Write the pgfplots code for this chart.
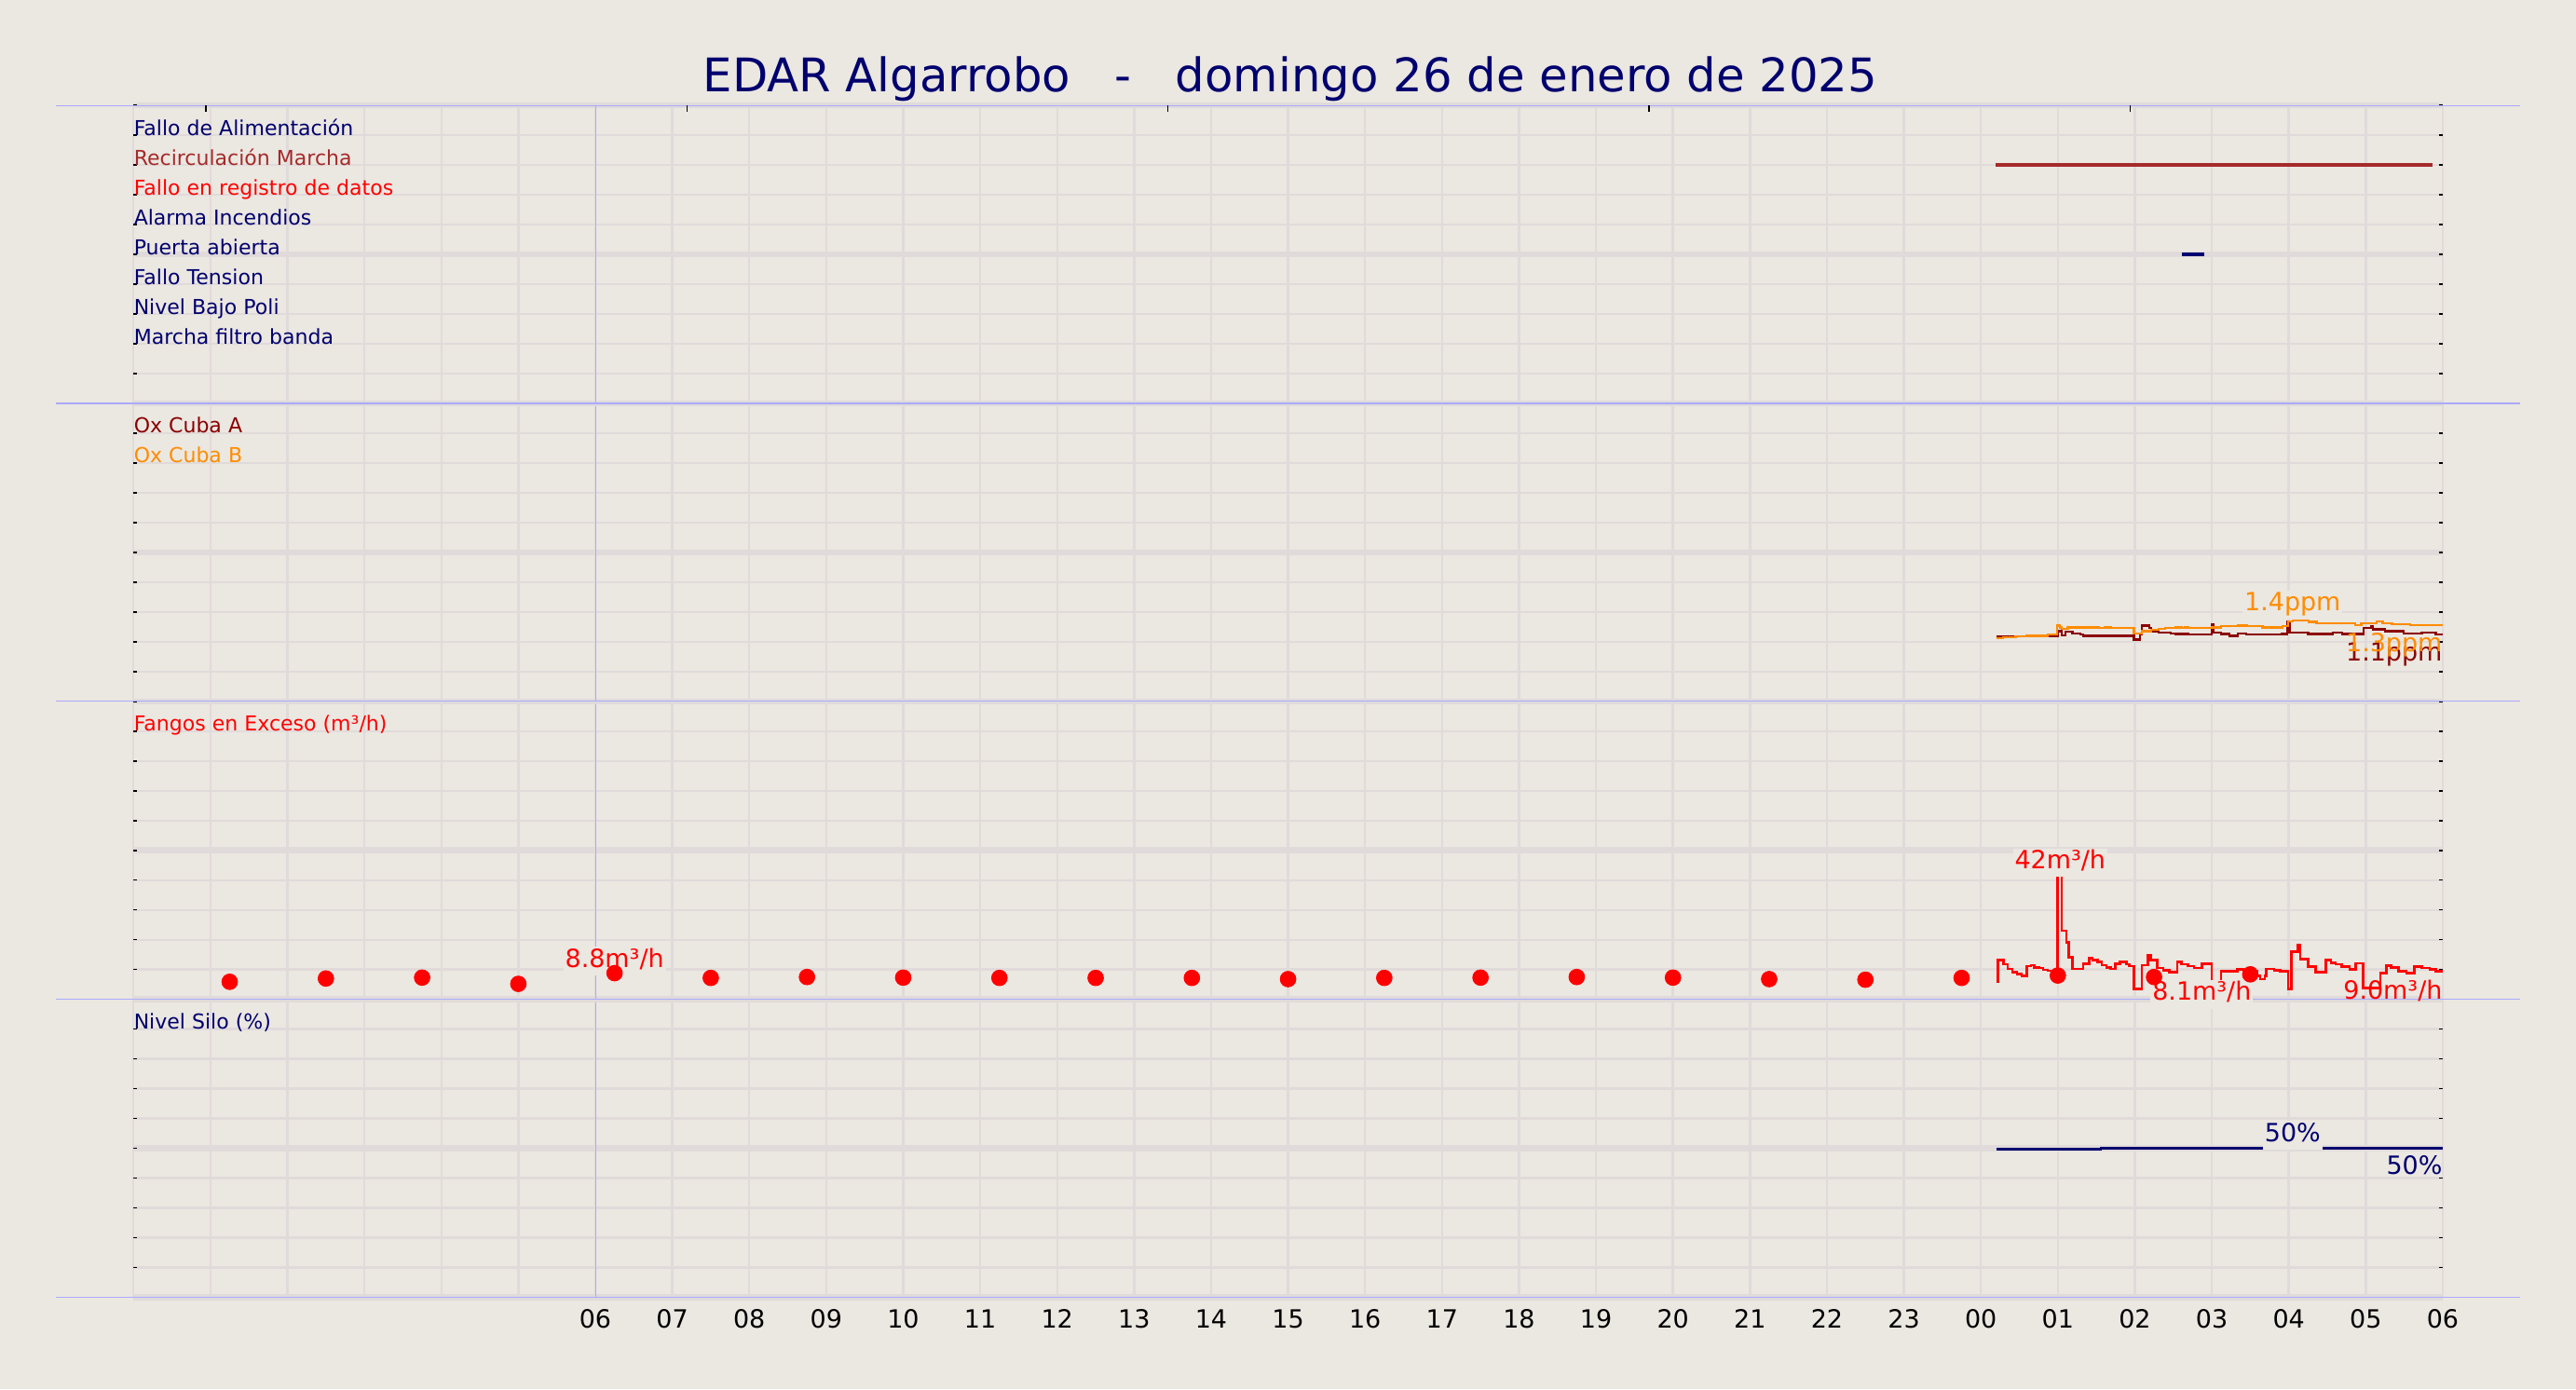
\documentclass[border=0pt]{standalone}
\usepackage{pgfplots}
\pgfplotsset{compat=1.18}
\usepackage{fontspec}
\setmainfont{DejaVu Sans}

\definecolor{bgc}{RGB}{235,231,225}
\definecolor{gridc}{RGB}{224,219,218}
\definecolor{sepc}{RGB}{170,170,255}
\definecolor{navyc}{RGB}{0,0,110}
\definecolor{brownc}{RGB}{165,42,42}
\definecolor{oxa}{RGB}{139,0,0}
\definecolor{oxb}{RGB}{255,140,0}

\newcommand{\lab}{\fontsize{9}{11}\selectfont}
\newcommand{\ann}{\fontsize{11}{13}\selectfont}

\tikzset{
  sep/.style={sepc, line width=0.5pt},
  boxed/.style={fill=bgc, inner xsep=0.8pt, inner ysep=1pt, text height=0.8em, text depth=0.25em},
  plain/.style={inner sep=0pt},
}

\pgfplotsset{
  panel/.style={
    at={(58.5pt,#1)}, anchor=south west,
    scale only axis, width=1012.1pt, height=130.6pt,
    xmin=0, xmax=30, xtick={0,1,...,30}, xticklabels={},
    xtick style={draw=none},
    yticklabels={},
    ytick pos=both, tick align=inside,
    major tick length=1.6pt,
    ytick style={black, line width=0.6pt},
    axis line style={draw=none},
    grid=major,
    major grid style={gridc, line width=1pt},
    extra y tick labels={},
    extra y tick style={major grid style={gridc, line width=2.7pt}},
    clip=false,
  },
}

\begin{document}
\begin{tikzpicture}
\useasboundingbox (0,0) rectangle (1129pt,608.8pt);
\fill[bgc] (0,0) rectangle (1129pt,608.8pt);

% ---- Nivel Silo
\begin{axis}[panel=40.2pt, ymin=0, ymax=100, ytick={0,10,...,100}, extra y ticks={0,50,100},
  xticklabels={{},{},{},{},{},{},06,07,08,09,10,11,12,13,14,15,16,17,18,19,20,21,22,23,00,01,02,03,04,05,06},
  xticklabel style={font=\fontsize{11}{13}\selectfont, inner sep=0pt, yshift=-5.1pt}]
  \draw[sep] (rel axis cs:-0.0336,0) -- (rel axis cs:1.0335,0);
  \draw[sepc, line width=0.4pt] (axis cs:6,0) -- (axis cs:6,100);
  \addplot[navyc, line width=1.1pt, const plot] coordinates {
    (24.20,49.8) (25.56,50.1) (30.00,50.1)};
  \node[plain, anchor=base west, text=navyc, font=\lab] at (axis cs:0,90) {Nivel Silo (\%)};
  \node[boxed, anchor=base, text=navyc, font=\ann] at (axis cs:28.05,52.3) {50\%};
  \node[plain, anchor=base east, text=navyc, font=\ann] at (axis cs:30,41.4) {50\%};
\end{axis}

% ---- Fangos en Exceso
\begin{axis}[panel=170.8pt, ymin=0, ymax=100, ytick={0,10,...,100}, extra y ticks={0,50,100}]
  \draw[sep] (rel axis cs:-0.0336,0) -- (rel axis cs:1.0335,0);
  \draw[sepc, line width=0.4pt] (axis cs:6,0) -- (axis cs:6,100);
  \addplot[red, line width=1.1pt, const plot] coordinates {
    (24.20,5.8) (24.22,13.1) (24.29,11.8) (24.35,10.2) (24.41,9.1) (24.47,8.4)
    (24.53,7.9) (24.60,11.2) (24.65,11.5) (24.69,10.8) (24.75,10.5) (24.81,9.9)
    (24.87,9.6) (25.00,41.5) (25.05,23.0) (25.11,19.2) (25.14,14.1) (25.19,10.2)
    (25.33,12.0) (25.41,13.9) (25.45,13.3) (25.52,12.6) (25.57,11.5) (25.63,10.8)
    (25.69,10.2) (25.75,12.0) (25.81,12.6) (25.89,11.8) (25.93,11.2) (25.99,3.5)
    (26.09,11.5) (26.17,14.9) (26.21,13.3) (26.29,10.5) (26.37,9.7) (26.45,9.1)
    (26.55,12.6) (26.61,11.8) (26.69,11.2) (26.77,10.5) (26.87,12.0) (27.00,5.0)
    (27.12,9.5) (27.33,10.0) (27.41,9.5) (27.59,7.9) (27.63,6.8) (27.69,7.9)
    (27.71,10.2) (27.81,9.8) (27.89,9.5) (27.99,3.5) (28.03,16.1) (28.12,18.2)
    (28.15,13.4) (28.25,11.1) (28.35,9.2) (28.48,13.2) (28.55,12.3) (28.61,11.8)
    (28.69,11.1) (28.79,10.0) (28.87,12.1) (28.97,3.8) (29.19,8.9) (29.27,11.3)
    (29.33,10.7) (29.43,9.5) (29.53,8.9) (29.63,11.1) (29.73,10.5) (29.83,10.0)
    (29.91,9.5) (30.00,9.5)};
  \addplot[only marks, mark=*, mark size=3.4pt, red, mark options={fill=red, draw=red}] coordinates {
    (1.25,5.9) (2.5,7.0) (3.75,7.3) (5.0,5.2) (6.25,8.8) (7.5,7.2) (8.75,7.5)
    (10.0,7.3) (11.25,7.2) (12.5,7.2) (13.75,7.2) (15.0,6.8) (16.25,7.2)
    (17.5,7.3) (18.75,7.5) (20.0,7.3) (21.25,6.8) (22.5,6.6) (23.75,7.2)
    (25.0,8.0) (26.25,7.5) (27.5,8.4)};
  \node[plain, anchor=base west, text=red, font=\lab] at (axis cs:0,90) {Fangos en Exceso (m³/h)};
  \node[boxed, anchor=base, text=red, font=\ann] at (axis cs:25.03,43.8) {42m³/h};
  \node[boxed, anchor=base, text=red, font=\ann] at (axis cs:6.25,10.8) {8.8m³/h};
  \node[boxed, anchor=base, text=red, font=\ann] at (axis cs:26.87,-0.4) {8.1m³/h};
  \node[plain, anchor=base east, text=red, font=\ann] at (axis cs:30,0.1) {9.0m³/h};
\end{axis}

% ---- Ox Cuba
\begin{axis}[panel=301.4pt, ymin=0, ymax=5, ytick={0,0.5,1,1.5,2,2.5,3,3.5,4,4.5,5}, extra y ticks={0,2.5,5}]
  \draw[sep] (rel axis cs:-0.0336,0) -- (rel axis cs:1.0335,0);
  \draw[sepc, line width=0.4pt] (axis cs:6,0) -- (axis cs:6,5);
  \addplot[oxa, line width=0.95pt, const plot] coordinates {
    (24.20,1.088) (24.91,1.10) (24.95,1.088) (25.00,1.18) (25.05,1.11) (25.10,1.17)
    (25.19,1.14) (25.29,1.12) (25.33,1.10) (25.99,1.036) (26.07,1.12) (26.09,1.27)
    (26.19,1.23) (26.21,1.17) (26.31,1.15) (26.47,1.14) (26.53,1.13) (26.69,1.12)
    (27.00,1.30) (27.02,1.155) (27.12,1.13) (27.23,1.10) (27.34,1.14) (27.45,1.12)
    (27.91,1.13) (27.98,1.345) (28.01,1.155) (28.25,1.13) (28.57,1.155) (28.69,1.13)
    (28.97,1.23) (29.07,1.26) (29.09,1.21) (29.25,1.18) (29.49,1.14) (29.73,1.155)
    (29.91,1.12) (30.00,1.12)};
  \addplot[oxb, line width=0.95pt, const plot] coordinates {
    (24.20,1.06) (24.29,1.077) (24.45,1.088) (24.59,1.10) (24.87,1.12) (24.99,1.27)
    (25.03,1.24) (25.05,1.22) (25.13,1.24) (25.53,1.23) (25.61,1.24) (25.69,1.23)
    (25.99,1.14) (26.09,1.18) (26.21,1.20) (26.31,1.22) (26.39,1.23) (26.53,1.24)
    (26.61,1.23) (26.65,1.24) (26.69,1.23) (27.00,1.24) (27.12,1.26) (27.34,1.27)
    (27.46,1.26) (27.66,1.24) (27.92,1.26) (27.99,1.345) (28.05,1.36) (28.26,1.335)
    (28.36,1.31) (28.86,1.28) (28.94,1.31) (29.14,1.345) (29.22,1.31) (29.34,1.29)
    (29.58,1.28) (30.00,1.28)};
  \node[plain, anchor=base west, text=oxa, font=\lab] at (axis cs:0,4.5) {Ox Cuba A};
  \node[plain, anchor=base west, text=oxb, font=\lab] at (axis cs:0,4.0) {Ox Cuba B};
  \node[boxed, anchor=base, text=oxb, font=\ann] at (axis cs:28.05,1.516) {1.4ppm};
  \node[plain, anchor=base east, text=oxa, font=\ann] at (axis cs:30,0.67) {1.1ppm};
  \node[plain, anchor=base east, text=oxb, font=\ann] at (axis cs:30,0.84) {1.3ppm};
\end{axis}

% ---- Senales digitales
\begin{axis}[panel=432.0pt, ymin=0, ymax=10, ytick={0,1,...,10}, extra y ticks={0,5,10}]
  \draw[sep] (rel axis cs:-0.0336,0) -- (rel axis cs:1.0335,0);
  \draw[sep] (rel axis cs:-0.0336,1) -- (rel axis cs:1.0335,1);
  \draw[sepc, line width=0.4pt] (axis cs:6,0) -- (axis cs:6,10);
  \draw[black, line width=0.5pt] (axis cs:0.94,10) -- ++(0,-2.9pt);
  \draw[black, line width=0.5pt] (axis cs:7.19,10) -- ++(0,-2.9pt);
  \draw[black, line width=0.5pt] (axis cs:13.44,10) -- ++(0,-2.9pt);
  \draw[black, line width=0.5pt] (axis cs:19.69,10) -- ++(0,-2.9pt);
  \draw[black, line width=0.5pt] (axis cs:25.94,10) -- ++(0,-2.9pt);
  \addplot[brownc, line width=1.35pt] coordinates {(24.19,8) (29.87,8)};
  \addplot[navyc, line width=1.35pt] coordinates {(26.61,5) (26.90,5)};
  \node[plain, anchor=base west, text=navyc, font=\lab] at (axis cs:0,9) {Fallo de Alimentación};
  \node[plain, anchor=base west, text=brownc, font=\lab] at (axis cs:0,8) {Recirculación Marcha};
  \node[plain, anchor=base west, text=red, font=\lab] at (axis cs:0,7) {Fallo en registro de datos};
  \node[plain, anchor=base west, text=navyc, font=\lab] at (axis cs:0,6) {Alarma Incendios};
  \node[plain, anchor=base west, text=navyc, font=\lab] at (axis cs:0,5) {Puerta abierta};
  \node[plain, anchor=base west, text=navyc, font=\lab] at (axis cs:0,4) {Fallo Tension};
  \node[plain, anchor=base west, text=navyc, font=\lab] at (axis cs:0,3) {Nivel Bajo Poli};
  \node[plain, anchor=base west, text=navyc, font=\lab] at (axis cs:0,2) {Marcha filtro banda};
\end{axis}

\node[anchor=base, text=navyc, font=\fontsize{20.3}{24}\selectfont, inner sep=0pt]
  at (565.5pt,568.6pt) {EDAR Algarrobo\ \ \ -\ \ \ domingo 26 de enero de 2025};
\end{tikzpicture}
\end{document}
